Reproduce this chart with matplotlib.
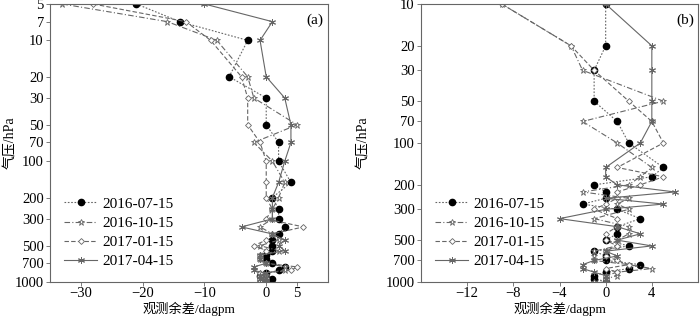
import numpy as np
import matplotlib
matplotlib.use("Agg")
import matplotlib.pyplot as plt
from matplotlib.ticker import FixedLocator, NullLocator, FixedFormatter

# pressure levels (hPa) and residuals (dagpm), panel (a)
lev_a = [5, 7, 10, 20, 30, 50, 70, 100, 150, 200, 250, 300, 350, 400, 450,
         500, 550, 600, 650, 700, 750, 800, 850, 900, 925, 950, 975, 1000]
a_0715 = [-21, -14, -3, -6, 0, 0, 2, 2, 4, 1, 2, 2, 3, 2, 1,
          1, 1, 0, 0, 1, 3, 2, 0, -1, 0, 1, 0, 0]
a_1015 = [-33, -16, -8, -3, -2, 5, -2, 1, 3, 2, 1, 1, -1, 1, 2,
          -1, 2, -1, -1, 0, 3, 3, -1, 0, -1, 0, -1, -1]
a_0115 = [-28, -13, -9, -4, -3, -3, -1, 0, 0, 0, 1, 0, 6, 1, 0,
          -2, 0, -1, -1, 0, 5, 4, -1, -1, 0, -1, 0, -1]
a_0415 = [-10, 1, -1, 0, 3, 4, 4, 3, 2, 1, 1, 1, -4, 1, 3,
          2, 3, -1, -1, 0, -2, -2, 0, -1, 0, -1, 0, 0]

# panel (b)
lev_b = [10, 20, 30, 50, 70, 100, 150, 175, 200, 225, 250, 275, 300, 350,
         400, 450, 500, 550, 600, 650, 700, 750, 800, 850, 900, 950, 1000]
b_0715 = [0, 0, -1, -1, 1, 2, 5, 4, -1, 0, 0, -2, 1, 3,
          1, 1, 0, 2, -1, 0, 0, 3, 2, 0, -1, -1, 0]
b_1015 = [-9, -3, -2, 5, -2, 1, 4, 3, 2, -2, 2, 1, 2, -1,
          2, 2, 1, 1, -1, -1, -1, 2, 4, 1, 1, 0, -1]
b_0115 = [-9, -3, -1, 2, 4, 5, 1, 5, 3, 1, 1, 0, -1, 1,
          1, 0, 0, 1, 0, 0, 1, 2, 0, 1, 0, 0, 0]
b_0415 = [0, 4, 4, 4, 4, 3, 0, 0, 1, 6, 0, 5, 0, -4,
          1, 3, 1, 4, 0, 1, -1, -2, -2, -1, 0, 0, 0]

labels = ["2016-07-15", "2016-10-15", "2017-01-15", "2017-04-15"]

fam = ["Liberation Serif", "Noto Sans CJK SC"]
plt.rcParams["font.family"] = fam

gray = "#666666"
styles = [
    dict(ls=(0, (1.5, 1.5)), marker="o", ms=4.5, mfc="black", mec="black"),
    dict(ls=(0, (5, 2, 1, 2)), marker="*", ms=5, mfc="white", mec=gray, mew=0.6),
    dict(ls=(0, (4, 2)), marker="D", ms=3, mfc="white", mec=gray, mew=0.6),
    dict(ls="-", marker=(6, 2, 0), ms=5, mec=gray, mew=0.7),
]

fig = plt.figure(figsize=(7, 3.16), dpi=100)
ax1 = fig.add_axes([50 / 700, 1 - 282 / 316, 278 / 700, 278 / 316])
ax2 = fig.add_axes([421 / 700, 1 - 282 / 316, 277 / 700, 278 / 316])


def draw(ax, lev, series, xlim, xticks, yticks, tag, ylab_x):
    for vals, lab, st in zip(series, labels, styles):
        ax.plot(vals, lev, color=gray, lw=0.8, label=lab, **st)
    ax.set_yscale("log")
    ax.set_ylim(1000, yticks[0])
    ax.set_xlim(*xlim)
    ax.yaxis.set_major_locator(FixedLocator(yticks))
    ax.yaxis.set_major_formatter(FixedFormatter([str(t) for t in yticks]))
    ax.yaxis.set_minor_locator(NullLocator())
    ax.set_xticks(xticks)
    ax.set_xticklabels([("\u2212" + str(-t)) if t < 0 else str(t) for t in xticks])
    ax.tick_params(direction="out", length=3, width=0.6, color=gray,
                   labelsize=10.5, pad=1.5)
    ax.tick_params(axis="x", pad=0.5)
    for s in ax.spines.values():
        s.set_color(gray)
        s.set_linewidth(0.8)
    ax.set_xlabel("观测余差/dagpm", fontsize=9.5)
    ax.xaxis.set_label_coords(0.5, -0.072)
    ax.set_ylabel("气压/hPa", fontsize=10)
    ax.yaxis.set_label_coords(ylab_x, 0.5)
    ax.text(0.985, 0.965, tag, transform=ax.transAxes, ha="right", va="top",
            fontsize=11)
    ax.legend(loc="lower left", bbox_to_anchor=(0.0, 0.0), frameon=False,
              fontsize=11, handlelength=2.2, labelspacing=0.36,
              handletextpad=0.3)


draw(ax1, lev_a, [a_0715, a_1015, a_0115, a_0415], (-35, 10),
     [-30, -20, -10, 0, 5],
     [5, 7, 10, 20, 30, 50, 70, 100, 200, 300, 500, 700, 1000], "(a)", -0.12)
draw(ax2, lev_b, [b_0715, b_1015, b_0115, b_0415], (-16, 8),
     [-12, -8, -4, 0, 4],
     [10, 20, 30, 50, 70, 100, 200, 300, 500, 700, 1000], "(b)", -0.185)

fig.savefig("out.png", dpi=100)
